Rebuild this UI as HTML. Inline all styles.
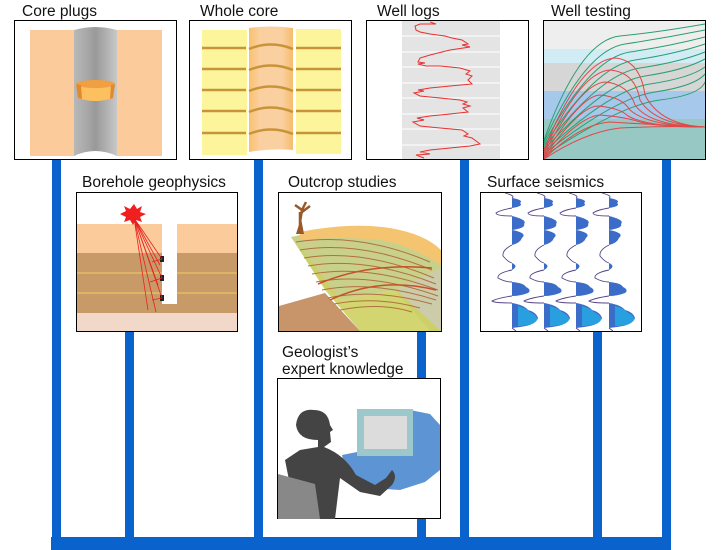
<!DOCTYPE html>
<html><head><meta charset="utf-8"><style>
html,body{margin:0;padding:0;background:#fff}
svg{display:block}
text{font-family:"Liberation Sans",Arial,sans-serif;font-size:15.5px;fill:#111}
</style></head><body>
<svg width="724" height="550" viewBox="0 0 724 550" xmlns="http://www.w3.org/2000/svg">
<defs>
<linearGradient id="cyl" x1="0" x2="1">
<stop offset="0" stop-color="#b8b8b8"/><stop offset=".3" stop-color="#a8a8a8"/><stop offset=".5" stop-color="#999"/><stop offset=".75" stop-color="#b0b0b0"/><stop offset="1" stop-color="#c8c8c8"/></linearGradient>
<linearGradient id="oc" x1="0" x2="1">
<stop offset="0" stop-color="#f8c070"/><stop offset=".25" stop-color="#fbd0a0"/><stop offset=".75" stop-color="#fbd0a0"/><stop offset="1" stop-color="#f5bc6c"/></linearGradient>
</defs>
<g fill="#0a62cc">
<rect x="52" y="160" width="9" height="380"/>
<rect x="125" y="332" width="9" height="208"/>
<rect x="254" y="160" width="9" height="380"/>
<rect x="417" y="332" width="9" height="208"/>
<rect x="460" y="160" width="9" height="380"/>
<rect x="593" y="332" width="9" height="208"/>
<rect x="662" y="160" width="9" height="380"/>
<rect x="51" y="537" width="620" height="13"/>
</g>
<text x="22" y="16">Core plugs</text>
<text x="200" y="16">Whole core</text>
<text x="377" y="16">Well logs</text>
<text x="551" y="16">Well testing</text>
<text x="82" y="187">Borehole geophysics</text>
<text x="288" y="187">Outcrop studies</text>
<text x="487" y="187">Surface seismics</text>
<text x="282" y="357">Geologist’s</text>
<text x="282" y="374">expert knowledge</text>

<rect x="14.5" y="20.5" width="162" height="139" fill="#fff" stroke="#000"/>
<rect x="30" y="30" width="45" height="126" fill="#fccb9c"/>
<rect x="116" y="30" width="46" height="126" fill="#fccb9c"/>
<path d="M74 30 Q95 24 117 30 L117 156 Q95 146 74 156Z" fill="url(#cyl)"/>
<path d="M76 84 L115 84 L113 98 Q95 104 78 98Z" fill="#fcc060"/>
<ellipse cx="95.5" cy="84" rx="19.5" ry="4" fill="#f0a040"/>
<path d="M76 84 L78 98 L82 99 L81 85Z" fill="#e08a30"/>
<path d="M115 84 L113 98 L110 99 L111 85Z" fill="#e08a30"/>

<rect x="189.5" y="20.5" width="162" height="139" fill="#fff" stroke="#000"/>
<rect x="202" y="30" width="45" height="125" fill="#fdf59c"/>
<rect x="296" y="29" width="45" height="125" fill="#fdf59c"/>
<path d="M249 28 Q271 25 293 28 L293 150 Q271 148 249 152Z" fill="url(#oc)"/>
<g stroke="#c8943a" stroke-width="2.5" fill="none">
<path d="M202 48h44M296 48h45M202 69h44M296 69h45M202 90h44M296 90h45M202 111h44M296 111h45M202 133h44M296 133h45"/>
<path d="M249 49Q271 40 293 49M249 70Q271 61 293 70M249 91Q271 82 293 91M249 112Q271 103 293 112M249 134Q271 125 293 134"/>
</g>

<rect x="366.5" y="20.5" width="162" height="139" fill="#fff" stroke="#000"/>
<rect x="402" y="21" width="98" height="138" fill="#e4e4e4"/>
<g stroke="#fff" stroke-width="1"><path d="M402 36h98M402 52h98M402 67h98M402 83h98M402 98h98M402 114h98M402 129h98M402 145h98"/></g>
<polyline fill="none" stroke="#e83030" stroke-width="1" points="430,22 436,24 420,24 415,26 416,30 420,32 430,34 445,36 452,38 462,40 468,44 462,45 470,47 450,50 430,55 420,58 418,62 425,63 418,64 426,66 440,66 460,68 470,71 466,74 472,76 468,80 472,84 450,86 430,88 418,90 424,91 414,93 420,96 440,98 460,100 467,102 463,104 470,106 463,108 468,112 450,114 430,116 417,118 424,120 413,122 420,126 440,128 462,130 468,134 464,136 472,138 480,144 470,146 450,148 430,150 420,152 430,154 416,155 424,158"/>

<rect x="543.5" y="20.5" width="162" height="139" fill="#fff" stroke="#000"/>
<rect x="544" y="21" width="161" height="28" fill="#eeeeee"/>
<rect x="544" y="49" width="161" height="14" fill="#d2ecf6"/>
<rect x="544" y="63" width="161" height="28" fill="#d6d6d6"/>
<rect x="544" y="91" width="161" height="28" fill="#a6c8ea"/>
<rect x="544" y="119" width="161" height="40" fill="#98c8c4"/>
<g fill="none" stroke="#2aa070" stroke-width="1">
<path d="M544 140 Q580 40 620 36 T705 24"/>
<path d="M544 142 Q585 50 625 44 T705 30"/>
<path d="M544 144 Q590 58 630 52 T705 37"/>
<path d="M544 146 Q595 66 635 60 T705 44"/>
<path d="M544 148 Q600 74 640 68 T705 52"/>
<path d="M544 150 Q605 82 645 76 T705 59"/>
<path d="M544 152 Q610 90 650 84 T705 67"/>
<path d="M544 154 Q615 98 655 92 T705 74"/>
<path d="M544 156 Q620 105 660 100 T705 82"/>
</g>
<g fill="none" stroke="#e04848" stroke-width="1">
<path d="M544 150 Q580 60 615 58 Q640 60 645 95 Q660 125 705 127"/>
<path d="M544 152 Q580 72 610 70 Q635 72 640 100 Q655 125 705 127"/>
<path d="M544 154 Q580 84 605 82 Q628 84 635 105 Q650 126 705 127"/>
<path d="M544 156 Q580 96 600 95 Q622 97 630 110 Q648 126 705 127"/>
<path d="M544 157 Q580 106 598 106 Q620 108 628 116 Q648 127 705 127"/>
<path d="M544 158 Q580 116 600 115 Q625 117 640 122 Q660 127 705 127"/>
<path d="M544 159 Q580 124 610 122 Q640 124 705 127"/>
<path d="M544 159 Q585 132 620 128 Q660 126 705 127"/>
</g>

<rect x="76.5" y="192.5" width="161" height="139" fill="#fff" stroke="#000"/>
<rect x="77" y="224" width="160" height="29" fill="#fccb9c"/>
<rect x="77" y="253" width="160" height="60" fill="#c89a68"/>
<rect x="77" y="313" width="160" height="18" fill="#f2d8c8"/>
<path d="M77 273h160M77 293h160" stroke="#f0d060" stroke-width="1"/>
<rect x="162" y="224" width="15" height="80" fill="#fff"/>
<rect x="160" y="256" width="4" height="6" fill="#222"/><rect x="160" y="275" width="4" height="6" fill="#222"/><rect x="160" y="295" width="4" height="6" fill="#222"/>
<polygon fill="#f02020" points="134,204 137,209 142,206 140,212 146,214 140,217 142,222 136,220 133,225 130,220 124,222 126,217 120,214 126,211 124,206 130,209" />
<g stroke="#e82020" stroke-width="0.8" fill="none">
<path d="M134 218 L162 259 L152 262 M134 218 L162 278 L150 282 M134 218 L162 298 L152 300 M134 218 L156 312 M134 218 L148 310 M134 218 L160 265 M134 218 L158 285"/>
</g>

<rect x="278.5" y="192.5" width="163" height="139" fill="#fff" stroke="#000"/>
<path d="M291 237 Q340 226 380 230 Q420 236 441 252 L441 331 L430 331 L396 290 L340 300 L322 285 Z" fill="#c8d08a"/>
<path d="M300 232 Q350 222 390 228 Q425 234 441 250 L441 265 Q410 245 380 240 Q340 236 300 240Z" fill="#f4c470"/>
<path d="M395 290 L441 268 L441 331 L430 331Z" fill="#ccccaa"/>
<path d="M292 236 L340 300 L396 290 L441 331 L360 331 L325 290 Z" fill="#cdd060" opacity=".9"/>
<path d="M279 306 L325 293 L360 331 L279 331Z" fill="#c8946a"/>
<g stroke="#b07040" stroke-width="1" fill="none">
<path d="M296 242 Q360 232 430 262"/><path d="M300 250 Q360 240 432 270"/><path d="M304 258 Q362 248 434 278"/>
<path d="M308 266 Q365 256 436 284"/><path d="M312 274 Q368 264 438 290"/><path d="M316 282 Q370 272 438 296"/>
<path d="M322 290 Q372 280 436 300"/><path d="M328 298 Q375 288 432 304"/><path d="M334 304 Q378 296 420 308"/>
<path d="M340 310 Q380 302 412 312"/>
</g>
<g stroke="#c85028" stroke-width="1.5" fill="none"><path d="M318 284 Q370 262 432 268"/><path d="M330 300 Q380 276 436 290"/></g>
<path d="M300 222 L302 210 L295 205 M302 210 L306 202 M302 212 L310 206 M300 230 L300 212" stroke="#9a5a28" stroke-width="2.5" fill="none"/>
<path d="M296 234 L301 218 L304 234Z" fill="#9a5a28"/>

<rect x="480.5" y="192.5" width="161" height="139" fill="#fff" stroke="#000"/>
<g id="tr">
<path d="M512 198 Q524 200 520 203 Q524 206 512 208Z M512 216 Q528 220 524 224 Q526 228 512 230 Q528 233 522 238 Q520 243 512 245Z M512 263 Q519 266 512 270Z M512 282 Q524 283 526 287 Q532 290 528 293 Q520 296 512 296Z M512 303 Q524 305 528 310 Q536 312 538 318 Q536 325 520 327 L512 328Z" fill="#3a6cc8"/>
<path d="M518 306 Q526 308 530 312 Q538 316 537 320 Q533 326 518 326Z" fill="#28a0e0"/>
<path d="M505 193 Q516 196 512 198 M512 208 Q500 210 496 213 Q496 216 512 216 M512 245 Q502 250 503 256 Q508 262 512 263 M512 270 Q497 273 498 278 Q505 282 512 282 M512 296 Q498 298 492 301 Q494 303 512 303 M512 328 L516 331" fill="none" stroke="#554488" stroke-width="0.9"/>
</g>
<use href="#tr" x="32"/><use href="#tr" x="64"/><use href="#tr" x="97"/>

<rect x="277.5" y="378.5" width="163" height="140" fill="#fff" stroke="#000"/>
<path d="M410 410 L430 414 L440 425 L440 470 L425 482 L400 490 L370 488 L345 470 L342 455 L357 452 L410 450Z" fill="#5c94d4"/>
<rect x="357" y="409" width="56" height="47" fill="#9cc8cc"/>
<rect x="364" y="416" width="43" height="33" fill="#dcdcdc"/>
<path d="M300 519 L293 500 L285 460 L300 450 L318 447 L318 440 Q298 440 296 425 Q298 408 314 410 Q328 410 330 425 L333 430 L330 432 L331 442 L324 447 Q345 455 356 475 L375 485 L386 478 L392 470 Q398 476 392 485 L380 496 L360 492 L340 478 L335 519Z" fill="#444"/>
<path d="M278 474 L315 484 L320 519 L278 519Z" fill="#888"/>
</svg>
</body></html>
